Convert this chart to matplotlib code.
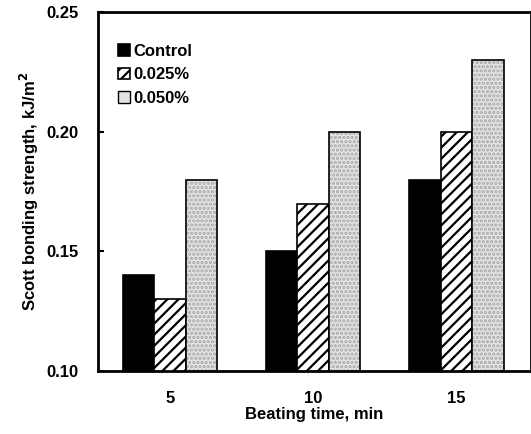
import numpy as np
import matplotlib
matplotlib.use("Agg")
import matplotlib.pyplot as plt

# beating time groups and series (Scott bonding strength, kJ/m2)
beating_time = ["5", "10", "15"]
control = [0.14, 0.15, 0.18]
dose_025 = [0.13, 0.17, 0.20]
dose_050 = [0.18, 0.20, 0.23]
series_names = ["Control", "0.025%", "0.050%"]

plt.rcParams['font.family'] = ['Liberation Sans Narrow', 'Liberation Sans', 'DejaVu Sans']
plt.rcParams['font.weight'] = 'bold'
plt.rcParams['hatch.linewidth'] = 1.6

fig = plt.figure(figsize=(5.31, 4.34), dpi=100)
ax = fig.add_axes([0.185, 0.145, 0.815, 0.827])

x = np.arange(len(beating_time))
w = 0.22
ax.bar(x - w, control, w, color='black', edgecolor='black', linewidth=1.2, label=series_names[0])
ax.bar(x, dose_025, w, color='white', edgecolor='black', hatch='///', linewidth=1.2, label=series_names[1])
# dotted light grey texture, then the black outline on top
ax.bar(x + w, dose_050, w, color='#e4e4e4', edgecolor='#a8a8a8', hatch='....', linewidth=0)
ax.bar(x + w, dose_050, w, color='none', edgecolor='black', linewidth=1.2)
# legend proxy for the dotted series
ax.bar([0], [0], w, color='#e4e4e4', edgecolor='black', linewidth=1.0, label=series_names[2])

ax.set_ylim(0.10, 0.25)
ax.set_xlim(-0.5, 2.52)
ax.set_yticks([0.10, 0.15, 0.20, 0.25])
ax.set_yticklabels(["0.10", "0.15", "0.20", "0.25"])
ax.set_xticks(x)
ax.set_xticklabels(beating_time)
ax.tick_params(axis='y', direction='in', length=4, width=1.5, labelsize=12, pad=14)
ax.tick_params(axis='x', length=0, labelsize=12, pad=14)
for s in ax.spines.values():
    s.set_linewidth(2)

ax.set_xlabel("Beating time, min", fontsize=12, fontweight='bold', labelpad=1)
ax.set_ylabel("Scott bonding strength, kJ/m$^2$", fontsize=12, fontweight='bold', labelpad=4)

leg = ax.legend(loc='upper left', bbox_to_anchor=(0.03, 0.93), frameon=False, fontsize=12,
                handlelength=0.7, handleheight=0.7, handletextpad=0.2, labelspacing=0.5,
                borderaxespad=0)

fig.savefig("out.png", dpi=100)
